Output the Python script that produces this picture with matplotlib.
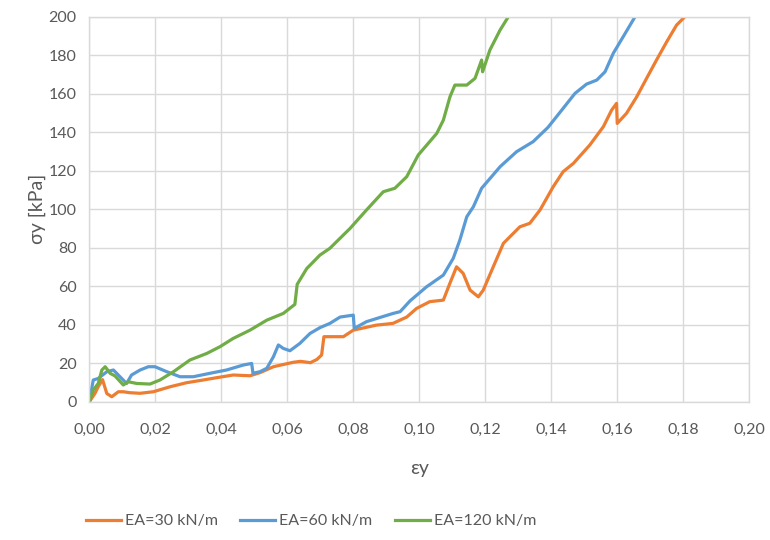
import matplotlib
matplotlib.use("Agg")
import matplotlib.pyplot as plt
from matplotlib.ticker import FuncFormatter, MultipleLocator

plt.rcParams['font.family'] = ['Lato', 'Open Sans', 'DejaVu Sans']

# strain / stress curves for three geosynthetic stiffnesses
eps_30 = [0.0, 0.0017, 0.0027, 0.0040, 0.0053, 0.0068, 0.0088, 0.0103, 0.0123, 0.0154,
          0.0194, 0.0245, 0.0295, 0.0345, 0.0386, 0.0436, 0.0487, 0.0517, 0.0558, 0.0618,
          0.0640, 0.0670, 0.0690, 0.0704, 0.0711, 0.0770, 0.0800, 0.0870, 0.0920, 0.0962,
          0.0992, 0.1032, 0.1073, 0.1093, 0.1113, 0.1133, 0.1154, 0.1179, 0.1194, 0.1224,
          0.1255, 0.1305, 0.1335, 0.1366, 0.1406, 0.1436, 0.1467, 0.1517, 0.1558, 0.1583,
          0.1598, 0.1600, 0.1628, 0.1659, 0.1689, 0.1719, 0.1750, 0.1780, 0.1805]
sig_30 = [0.0, 4.3, 7.8, 11.5, 4.3, 2.6, 5.2, 5.2, 4.7, 4.4,
          5.2, 7.8, 9.9, 11.3, 12.5, 13.9, 13.5, 15.1, 18.2, 20.5,
          21.0, 20.3, 22.0, 24.3, 33.8, 33.8, 37.2, 39.8, 40.7, 44.0,
          48.5, 52.0, 52.8, 61.6, 70.1, 66.7, 58.0, 54.5, 58.0, 70.0,
          82.3, 90.9, 92.7, 99.6, 111.7, 119.5, 123.8, 133.4, 142.9, 151.5,
          155.0, 144.6, 149.8, 158.4, 168.0, 177.5, 187.0, 195.7, 200.0]

eps_60 = [0.0, 0.0012, 0.0027, 0.0053, 0.0073, 0.0098, 0.0113, 0.0128, 0.0154, 0.0179,
          0.0199, 0.0235, 0.0275, 0.0315, 0.0366, 0.0416, 0.0467, 0.0492, 0.0496, 0.0517,
          0.0538, 0.0558, 0.0573, 0.0588, 0.0608, 0.0638, 0.0669, 0.0699, 0.0729, 0.0760,
          0.0800, 0.0803, 0.0840, 0.0885, 0.0921, 0.0942, 0.0972, 0.1022, 0.1073, 0.1103,
          0.1123, 0.1144, 0.1164, 0.1189, 0.1245, 0.1295, 0.1345, 0.1390, 0.1436, 0.1472,
          0.1507, 0.1538, 0.1563, 0.1588, 0.1618, 0.1654]
sig_60 = [0.0, 11.3, 12.1, 15.6, 16.5, 12.1, 9.5, 13.9, 16.5, 18.2,
          18.2, 15.6, 13.0, 13.0, 14.8, 16.5, 19.1, 19.9, 14.8, 15.6,
          17.4, 23.4, 29.5, 27.7, 26.5, 30.3, 35.5, 38.5, 40.7, 44.0,
          45.0, 38.1, 41.6, 44.0, 45.9, 46.8, 52.4, 59.7, 65.8, 74.5,
          84.0, 96.1, 101.3, 110.9, 122.1, 129.9, 135.1, 142.5, 152.4, 160.2,
          165.0, 167.1, 171.4, 181.0, 189.6, 200.0]

eps_120 = [0.0, 0.0012, 0.0027, 0.0038, 0.0048, 0.0063, 0.0078, 0.0103, 0.0118, 0.0144,
           0.0184, 0.0214, 0.0255, 0.0305, 0.0356, 0.0396, 0.0436, 0.0487, 0.0538, 0.0588,
           0.0623, 0.0630, 0.0659, 0.0699, 0.0729, 0.0790, 0.0840, 0.0891, 0.0926, 0.0962,
           0.0997, 0.1053, 0.1073, 0.1093, 0.1108, 0.1144, 0.1169, 0.1189, 0.1192, 0.1214,
           0.1245, 0.1270]
sig_120 = [0.0, 6.1, 9.5, 16.5, 18.2, 14.8, 13.4, 8.7, 10.4, 9.5,
           9.2, 11.3, 15.6, 21.7, 25.1, 28.6, 32.9, 37.2, 42.4, 45.9,
           50.6, 61.0, 69.2, 76.2, 79.7, 90.0, 99.6, 109.1, 110.9, 116.9,
           128.2, 139.4, 146.3, 158.4, 164.5, 164.5, 168.0, 177.5, 171.4, 182.7,
           193.1, 200.0]

labels = ['EA=30 kN/m', 'EA=60 kN/m', 'EA=120 kN/m']
colors = ['#ED7D31', '#5B9BD5', '#70AD47']

fig = plt.figure(figsize=(7.7, 5.4), dpi=100)
ax = fig.add_axes([0.116, 0.256, 0.857, 0.713])

for eps, sig, lab, col in zip([eps_30, eps_60, eps_120],
                              [sig_30, sig_60, sig_120], labels, colors):
    ax.plot(eps, sig, color=col, lw=2.3, label=lab, solid_joinstyle='round')

ax.set_xlim(0, 0.20)
ax.set_ylim(0, 200)
ax.xaxis.set_major_locator(MultipleLocator(0.02))
ax.yaxis.set_major_locator(MultipleLocator(20))
ax.xaxis.set_major_formatter(FuncFormatter(lambda v, p: f"{v:.2f}".replace('.', ',')))
ax.yaxis.set_major_formatter(FuncFormatter(lambda v, p: f"{v:.0f}"))

grid_col = '#d9d9d9'
ax.grid(True, color=grid_col, lw=1.0)
ax.set_axisbelow(True)
for s in ax.spines.values():
    s.set_color(grid_col)
    s.set_linewidth(1.0)
ax.tick_params(length=0, labelsize=11.5, labelcolor='#595959')
ax.tick_params(axis='x', pad=15)
ax.tick_params(axis='y', pad=9)

ax.set_xlabel('εy', fontsize=14, color='#595959', labelpad=17)
ax.set_ylabel('σy [kPa]', fontsize=14, color='#595959', labelpad=2)

fig.legend(loc='center', bbox_to_anchor=(0.404, 0.035), ncol=3, frameon=False,
           fontsize=11.5, handlelength=2.2, columnspacing=1.4, handletextpad=0.25,
           labelcolor='#595959')

fig.savefig('out.png', dpi=100)
